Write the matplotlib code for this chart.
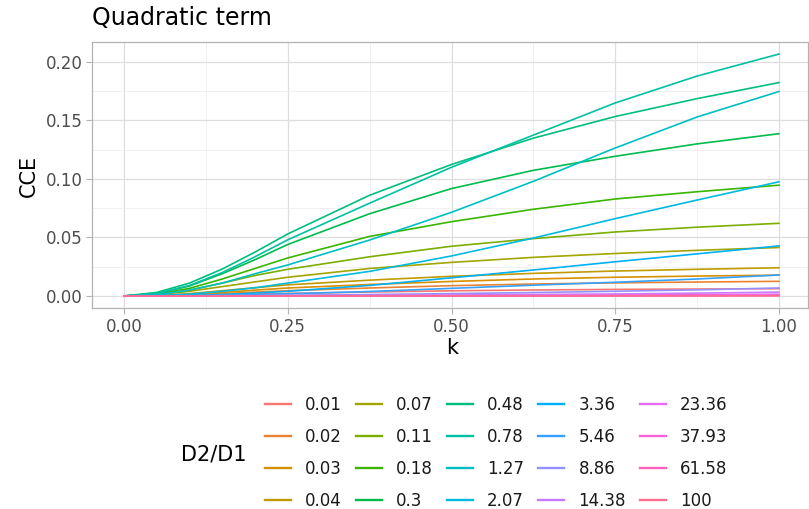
import matplotlib
matplotlib.use("Agg")
import matplotlib.pyplot as plt
from matplotlib.ticker import MultipleLocator

plt.rcParams['font.family'] = ['DejaVu Sans']

# k grid where the curves were sampled
k = [0, 0.05, 0.1, 0.15, 0.2, 0.25, 0.375, 0.5, 0.625, 0.75, 0.875, 1.0]

ratio_labels = ["0.01", "0.02", "0.03", "0.04", "0.07", "0.11", "0.18", "0.3",
                "0.48", "0.78", "1.27", "2.07", "3.36", "5.46", "8.86", "14.38",
                "23.36", "37.93", "61.58", "100"]

# CCE for each D2/D1 ratio
cce_001 = [0, 0.0001, 0.0004, 0.0010, 0.0016, 0.0022, 0.0034, 0.0044, 0.0051, 0.0056, 0.0059, 0.0062]
cce_002 = [0, 0.0002, 0.0009, 0.0020, 0.0033, 0.0045, 0.0068, 0.0088, 0.0102, 0.0112, 0.0119, 0.0125]
cce_003 = [0, 0.0003, 0.0013, 0.0030, 0.0050, 0.0068, 0.0098, 0.0124, 0.0145, 0.0160, 0.0170, 0.0178]
cce_004 = [0, 0.0005, 0.0020, 0.0045, 0.0070, 0.0095, 0.0135, 0.0168, 0.0193, 0.0213, 0.0228, 0.0241]
cce_007 = [0, 0.0010, 0.0040, 0.0080, 0.0120, 0.0160, 0.0235, 0.0287, 0.0330, 0.0363, 0.0390, 0.0414]
cce_011 = [0, 0.0010, 0.0050, 0.0110, 0.0175, 0.0228, 0.0335, 0.0425, 0.0490, 0.0547, 0.0588, 0.0621]
cce_018 = [0, 0.0015, 0.0065, 0.0145, 0.0235, 0.0325, 0.0509, 0.0635, 0.0741, 0.0829, 0.0891, 0.0947]
cce_030 = [0, 0.0020, 0.0085, 0.0190, 0.0310, 0.0440, 0.0703, 0.0918, 0.1074, 0.1194, 0.1300, 0.1387]
cce_048 = [0, 0.0030, 0.0110, 0.0230, 0.0375, 0.0530, 0.0861, 0.1124, 0.1349, 0.1534, 0.1687, 0.1824]
cce_078 = [0, 0.0020, 0.0090, 0.0200, 0.0335, 0.0480, 0.0793, 0.1100, 0.1375, 0.1650, 0.1880, 0.2068]
cce_127 = [0, 0.0010, 0.0050, 0.0110, 0.0190, 0.0265, 0.0478, 0.0715, 0.0980, 0.1265, 0.1530, 0.1748]
cce_207 = [0, 0.0003, 0.0015, 0.0040, 0.0070, 0.0110, 0.0210, 0.0342, 0.0495, 0.0661, 0.0820, 0.0976]
cce_336 = [0, 0.0001, 0.0005, 0.0012, 0.0025, 0.0040, 0.0090, 0.0155, 0.0222, 0.0292, 0.0360, 0.0428]
cce_546 = [0, 0.0000, 0.0002, 0.0006, 0.0011, 0.0018, 0.0038, 0.0065, 0.0092, 0.0117, 0.0145, 0.0179]
cce_886 = [0, 0.0000, 0.0001, 0.0002, 0.0004, 0.0006, 0.0012, 0.0020, 0.0029, 0.0040, 0.0052, 0.0068]
cce_1438 = [0, 0.0000, 0.0000, 0.0001, 0.0001, 0.0002, 0.0005, 0.0008, 0.0012, 0.0017, 0.0024, 0.0033]
cce_2336 = [0, 0.0000, 0.0000, 0.0000, 0.0000, 0.0001, 0.0002, 0.0003, 0.0005, 0.0008, 0.0011, 0.0015]
cce_3793 = [0, 0.0000, 0.0000, 0.0000, 0.0000, 0.0000, 0.0001, 0.0001, 0.0002, 0.0003, 0.0005, 0.0007]
cce_6158 = [0, 0.0000, 0.0000, 0.0000, 0.0000, 0.0000, 0.0000, 0.0001, 0.0001, 0.0001, 0.0002, 0.0003]
cce_100 = [0, 0.0000, 0.0000, 0.0000, 0.0000, 0.0000, 0.0000, 0.0000, 0.0000, 0.0001, 0.0001, 0.0001]

series = [cce_001, cce_002, cce_003, cce_004, cce_007, cce_011, cce_018, cce_030,
          cce_048, cce_078, cce_127, cce_207, cce_336, cce_546, cce_886, cce_1438,
          cce_2336, cce_3793, cce_6158, cce_100]

# ggplot default hue palette, 20 levels
colors = ["#F8766D", "#EA8331", "#D89000", "#C09B00", "#A3A500", "#7CAE00",
          "#39B600", "#00BB4E", "#00BF7D", "#00C1A3", "#00BFC4", "#00BAE0",
          "#00B0F6", "#35A2FF", "#9590FF", "#C77CFF", "#E76BF3", "#FA62DB",
          "#FF62BC", "#FF6C91"]

W, H = 809, 509
fig = plt.figure(figsize=(W / 100, H / 100), dpi=100)
ax = fig.add_axes([92 / W, 1 - 308 / H, (808 - 92) / W, (308 - 42) / H])

handles = []
for y, c, lab in zip(series, colors, ratio_labels):
    ln, = ax.plot(k, y, color=c, lw=1.2, label=lab, solid_joinstyle='round')
    handles.append(ln)

ax.set_xlim(-32 / 655, (808 - 124) / 655)
ax.set_ylim(-0.0103, 0.2171)

ax.set_xticks([0, 0.25, 0.5, 0.75, 1.0])
ax.set_xticklabels(["0.00", "0.25", "0.50", "0.75", "1.00"])
ax.set_yticks([0, 0.05, 0.10, 0.15, 0.20])
ax.set_yticklabels(["0.00", "0.05", "0.10", "0.15", "0.20"])
ax.xaxis.set_minor_locator(MultipleLocator(0.125))
ax.yaxis.set_minor_locator(MultipleLocator(0.025))
ax.tick_params(which='major', length=4, width=0.8, color='#B3B3B3',
               labelcolor='#4D4D4D', labelsize=12, pad=3)
ax.tick_params(which='minor', length=0)

ax.grid(which='major', color='#DEDEDE', lw=0.9)
ax.grid(which='minor', color='#EBEBEB', lw=0.5)
ax.set_axisbelow(True)
for sp in ax.spines.values():
    sp.set_color('#B3B3B3')
    sp.set_linewidth(0.9)

fig.text(92 / W, 1 - 18 / H, "Quadratic term", fontsize=17, va='center', ha='left')
fig.text(452 / W, 1 - 348 / H, "k", fontsize=15, va='center', ha='center')
fig.text(29 / W, 1 - 176 / H, "CCE", fontsize=15, va='center', ha='center',
         rotation=90)

fig.text(181 / W, 1 - 454 / H, "D2/D1", fontsize=15, va='center', ha='left')
leg = fig.legend(handles=handles, labels=ratio_labels, ncol=5, loc='center left',
                 bbox_to_anchor=(265 / W, 1 - 452.5 / H), frameon=False,
                 fontsize=12, handlelength=1.55, handletextpad=0.85,
                 columnspacing=0.85, labelspacing=0.84, borderpad=0,
                 borderaxespad=0)
for ln in leg.get_lines():
    ln.set_linewidth(1.7)
for t in leg.get_texts():
    t.set_color('#1A1A1A')

fig.savefig("out.png", dpi=100)
